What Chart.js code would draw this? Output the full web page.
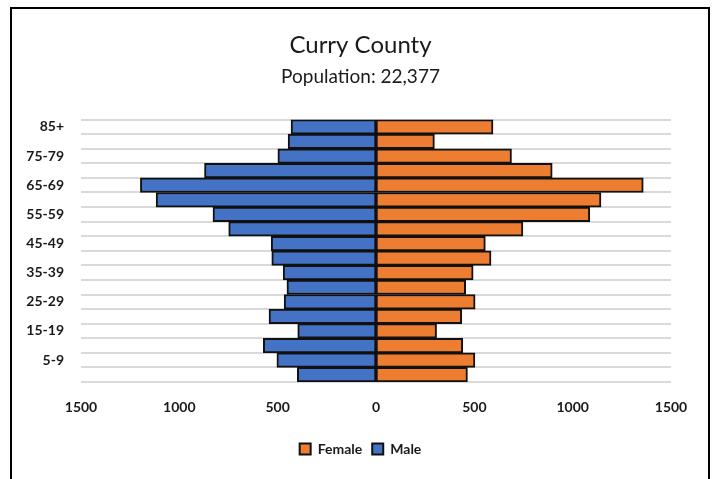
<!DOCTYPE html>
<html>
<head>
<meta charset="utf-8">
<script src="https://cdn.jsdelivr.net/npm/chart.js@4"></script>
<style>
  html, body { margin: 0; padding: 0; background: #fff; }
  #wrap { position: absolute; left: 0; top: 0; width: 715px; height: 479px; }
  #frame { position: absolute; left: 10px; top: 7px; width: 696px; height: 490px; border: 2px solid #000; pointer-events: none; }
</style>
</head>
<body>
<div id="wrap"><canvas id="c" width="715" height="479"></canvas></div>
<div id="frame"></div>
<script>
const titleText = 'Curry County';
const subtitleText = 'Population: 22,377';
const categories = ['85+', '80-84', '75-79', '70-74', '65-69', '60-64', '55-59', '50-54', '45-49',
                    '40-44', '35-39', '30-34', '25-29', '20-24', '15-19', '10-14', '5-9', '0-4'];
const femaleValues = [595, 297, 689, 896, 1359, 1144, 1087, 747, 556, 585, 494, 456, 504, 436, 308, 441, 503, 465];
const maleValues   = [432, 447, 499, 872, 1198, 1118, 829, 749, 533, 530, 472, 453, 467, 544, 398, 573, 504, 400];
const xTicks = [-1500, -1000, -500, 0, 500, 1000, 1500];

const FONT = 'Lato, "Open Sans", sans-serif';

// Centre the title, subtitle and legend on the frame rather than on the padded layout
const centreBlocks = {
  id: 'centreBlocks',
  afterLayout(chart) {
    const shift = 20;
    chart.boxes.forEach(b => {
      const isText = b === chart.titleBlock || b === chart.legend ||
        (b.options && b.options.text === subtitleText);
      if (isText) { b.left += shift; b.right += shift; }
    });
  }
};

new Chart(document.getElementById('c'), {
  type: 'bar',
  data: {
    labels: categories,
    datasets: [
      {
        label: 'Female',
        data: femaleValues,
        backgroundColor: '#ED7D31',
        borderColor: '#111111',
        borderWidth: 2,
        borderSkipped: false,
        categoryPercentage: 1,
        barPercentage: 1
      },
      {
        label: 'Male',
        data: maleValues.map(v => -v),
        backgroundColor: '#4472C4',
        borderColor: '#111111',
        borderWidth: 2,
        borderSkipped: false,
        categoryPercentage: 1,
        barPercentage: 1
      }
    ]
  },
  options: {
    indexAxis: 'y',
    responsive: false,
    animation: false,
    layout: { padding: { left: 10, right: 44, top: 31, bottom: 13 } },
    scales: {
      x: {
        stacked: true,
        min: xTicks[0],
        max: xTicks[xTicks.length - 1],
        afterBuildTicks: s => { s.ticks = xTicks.map(v => ({ value: v })); },
        afterFit: s => { s.height = 50; },
        grid: { display: false, drawTicks: false },
        border: { display: false },
        ticks: {
          padding: 17,
          color: '#1a1a1a',
          font: { family: FONT, size: 14, weight: 'bold' },
          callback: v => String(Math.abs(v))
        }
      },
      y: {
        stacked: true,
        afterFit: s => { s.width = 71; },
        grid: { display: true, offset: true, color: '#d9d9d9', lineWidth: 2, drawTicks: false },
        border: { display: false },
        ticks: {
          autoSkip: false,
          padding: 17,
          color: '#1a1a1a',
          font: { family: FONT, size: 14, weight: 'bold' },
          callback: function (v, i) { return i % 2 === 0 ? categories[i] : ''; }
        }
      }
    },
    plugins: {
      title: {
        display: true,
        text: titleText,
        color: '#1a1a1a',
        font: { family: FONT, size: 24, weight: 'normal' },
        padding: { top: 0, bottom: 6 }
      },
      subtitle: {
        display: true,
        text: subtitleText,
        color: '#1a1a1a',
        font: { family: FONT, size: 19, weight: 'normal' },
        padding: { top: 0, bottom: 31 }
      },
      legend: {
        position: 'bottom',
        labels: {
          color: '#1a1a1a',
          boxWidth: 11,
          boxHeight: 11,
          padding: 10,
          font: { family: FONT, size: 14, weight: 'bold' }
        }
      },
      tooltip: { enabled: false }
    }
  },
  plugins: [centreBlocks]
});
</script>
</body>
</html>
